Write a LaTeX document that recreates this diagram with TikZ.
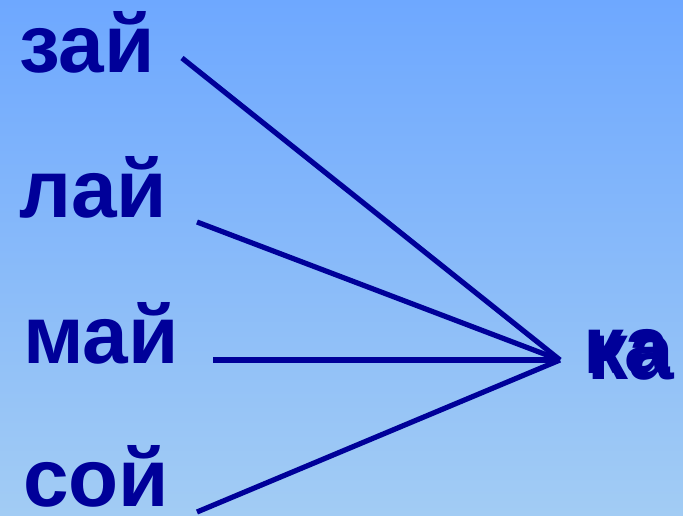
\documentclass[tikz,border=0pt]{standalone}
\usepackage{fontspec}
\setmainfont{Liberation Sans}
\usepackage{tikz}
\usetikzlibrary{calc}
\definecolor{BgTop}{HTML}{6EA8FF}
\definecolor{BgBottom}{HTML}{A2CCF4}
\definecolor{Ink}{HTML}{000099}

\begin{document}
\begin{tikzpicture}[x=1pt,y=1pt,
    word/.style={Ink,anchor=base west,inner sep=0pt,font=\fontsize{82}{86}\selectfont\bfseries},
    link/.style={Ink,line width=5.2pt}]
  \useasboundingbox (0,0) rectangle (683,515);
  \shade[top color=BgTop,bottom color=BgBottom] (0,0) rectangle (683,515);
  % syllables on the left
  \node[word] (zai) at (19,442) {зай};
  \node[word] (lai) at (19,298) {лай};
  \node[word] (mai) at (23,152) {май};
  \node[word] (soi) at (23,9) {сой};
  % ending, printed twice slightly shifted
  \node[word] (ka) at (583,142) {ка};
  \node[word] (kaShift) at (587,136) {ка};
  % line ends
  \coordinate (hub) at (560,155);
  \coordinate (zaiEnd) at (182,457);
  \coordinate (laiEnd) at (197,293);
  \coordinate (maiEnd) at (213,155);
  \coordinate (soiEnd) at (197,3);
  \draw[link] (zaiEnd) -- (hub);
  \draw[link] (laiEnd) -- (hub);
  \draw[link] (maiEnd) -- (hub);
  \draw[link] (soiEnd) -- (hub);
\end{tikzpicture}
\end{document}
